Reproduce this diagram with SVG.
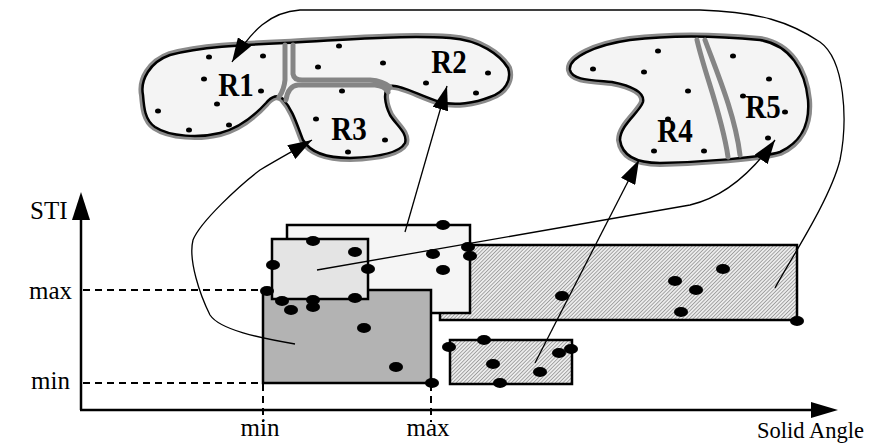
<svg xmlns="http://www.w3.org/2000/svg" width="889" height="443" viewBox="0 0 889 443">
  <style>
    .lbl { font-family: "Liberation Serif", "Times New Roman", serif; font-size: 25px; fill: #000; }
    .mid { text-anchor: middle; }
    .reg { font-family: "Liberation Serif", "Times New Roman", serif; font-size: 29px; font-weight: bold; fill: #000; text-anchor: middle; }
    .halo { fill: none; stroke: #8a8a8a; stroke-width: 8; stroke-linejoin: round; }
    .edge { fill: #f4f4f4; stroke: #000; stroke-width: 2.5; stroke-linejoin: round; }
    .split { fill: none; stroke: #858585; stroke-width: 5; stroke-linecap: round; }
    .pt { fill: #000; }
    .box { stroke: #000; stroke-width: 2.5; }
    .link { fill: none; stroke: #000; stroke-width: 1.3; }
    .axis { fill: none; stroke: #000; stroke-width: 2.5; }
    .guide { fill: none; stroke: #000; stroke-width: 2; stroke-dasharray: 7 5; }
  </style>
  <defs>
    <marker id="head" viewBox="0 0 24 16" refX="24" refY="8" markerWidth="24" markerHeight="16" markerUnits="userSpaceOnUse" orient="auto">
      <path d="M0,0 L24,8 L0,16 Z" fill="#000"/>
    </marker>
    <pattern id="hatch" width="2.6" height="2.6" patternUnits="userSpaceOnUse" patternTransform="rotate(45)">
      <rect width="2.6" height="2.6" fill="#ececec"/>
      <line x1="0" y1="0" x2="0" y2="2.6" stroke="#6e6e6e" stroke-width="1.1"/>
    </pattern>
  </defs>

  <!-- axes -->
  <g id="axes">
    <line class="axis" x1="81" y1="410" x2="81" y2="218"/>
    <path d="M72,220 L81,192 L90,220 Z" fill="#000"/>
    <line class="axis" x1="80" y1="410" x2="814" y2="410"/>
    <path d="M811,402 L838,410 L811,418 Z" fill="#000"/>
    <line class="guide" x1="83" y1="290" x2="263" y2="290"/>
    <line class="guide" x1="83" y1="383" x2="263" y2="383"/>
    <line class="guide" x1="263" y1="384" x2="263" y2="422"/>
    <line class="guide" x1="431" y1="384" x2="431" y2="422"/>
    <text class="lbl" x="30" y="219">STI</text>
    <text class="lbl" x="29" y="299">max</text>
    <text class="lbl" x="31" y="389">min</text>
    <text class="lbl mid" x="260" y="436">min</text>
    <text class="lbl mid" x="428" y="436">max</text>
    <text class="lbl" x="757" y="438" style="font-size:22.5px">Solid Angle</text>
  </g>

  <!-- region map: R1, R2, R3 -->
  <g id="regions-left">
    <path class="halo" d="M143,95 C140,80 150,62 170,55 C200,47 240,45 285,43 C340,40 400,35 450,38 C480,40 500,55 508,68 C512,80 505,92 490,97 C475,103 455,106 440,102 C420,96 400,84 390,86 C382,90 385,105 390,115 C396,125 408,133 405,143 C400,152 380,157 350,158 C325,158 310,152 303,140 C297,125 293,110 283,99 C278,94 272,96 266,103 C255,115 240,128 220,133 C200,138 170,137 155,127 C145,120 144,108 143,95 Z"/>
    <path class="edge" d="M143,95 C140,80 150,62 170,55 C200,47 240,45 285,43 C340,40 400,35 450,38 C480,40 500,55 508,68 C512,80 505,92 490,97 C475,103 455,106 440,102 C420,96 400,84 390,86 C382,90 385,105 390,115 C396,125 408,133 405,143 C400,152 380,157 350,158 C325,158 310,152 303,140 C297,125 293,110 283,99 C278,94 272,96 266,103 C255,115 240,128 220,133 C200,138 170,137 155,127 C145,120 144,108 143,95 Z"/>
    <path class="split" d="M285,45 L285,80 Q284,90 279,97"/>
    <path class="split" d="M293,45 L293,74 Q294,80 302,80 L370,80 Q383,81 390,87"/>
    <path class="split" d="M286,100 Q288,86 298,85 L375,85 Q385,86 388,92"/>
  </g>
  <g id="R1">
    <text class="reg" transform="translate(236,96) scale(1,1.15)">R1</text>
    <g class="pt">
      <ellipse cx="209" cy="57" rx="3" ry="2.5"/><ellipse cx="263" cy="56" rx="3" ry="2.5"/>
      <ellipse cx="204" cy="79" rx="3" ry="2.5"/><ellipse cx="261" cy="91" rx="3" ry="2.5"/>
      <ellipse cx="217" cy="104" rx="3" ry="2.5"/><ellipse cx="158" cy="111" rx="3" ry="2.5"/>
      <ellipse cx="189" cy="130" rx="3" ry="2.5"/><ellipse cx="229" cy="125" rx="3" ry="2.5"/>
    </g>
  </g>
  <g id="R2">
    <text class="reg" transform="translate(449,73) scale(1,1.15)">R2</text>
    <g class="pt">
      <ellipse cx="339" cy="46" rx="3" ry="2.5"/><ellipse cx="318" cy="67" rx="3" ry="2.5"/>
      <ellipse cx="383" cy="63" rx="3" ry="2.5"/><ellipse cx="426" cy="83" rx="3" ry="2.5"/>
      <ellipse cx="488" cy="73" rx="3" ry="2.5"/><ellipse cx="476" cy="93" rx="3" ry="2.5"/>
    </g>
  </g>
  <g id="R3">
    <text class="reg" transform="translate(349,140) scale(1,1.15)">R3</text>
    <g class="pt">
      <ellipse cx="342" cy="91" rx="3" ry="2.5"/><ellipse cx="316" cy="119" rx="3" ry="2.5"/>
      <ellipse cx="385" cy="140" rx="3" ry="2.5"/><ellipse cx="348" cy="152" rx="3" ry="2.5"/>
    </g>
  </g>

  <!-- region map: R4, R5 -->
  <g id="regions-right">
    <path class="halo" d="M570,70 C568,58 595,45 630,40 C670,35 720,36 760,40 C790,45 805,70 808,100 C810,125 800,143 780,152 C760,158 700,162 660,163 C635,163 622,155 620,140 C620,125 640,112 643,102 C645,92 632,86 612,82 C590,80 572,80 570,70 Z"/>
    <path class="edge" d="M570,70 C568,58 595,45 630,40 C670,35 720,36 760,40 C790,45 805,70 808,100 C810,125 800,143 780,152 C760,158 700,162 660,163 C635,163 622,155 620,140 C620,125 640,112 643,102 C645,92 632,86 612,82 C590,80 572,80 570,70 Z"/>
    <path class="split" d="M697,40 C705,75 722,115 728,157"/>
    <path class="split" d="M705,40 C718,75 735,115 740,155"/>
  </g>
  <g id="R4">
    <text class="reg" transform="translate(675,142) scale(1,1.15)">R4</text>
    <g class="pt">
      <ellipse cx="658" cy="51" rx="3" ry="2.5"/><ellipse cx="593" cy="69" rx="3" ry="2.5"/>
      <ellipse cx="644" cy="72" rx="3" ry="2.5"/><ellipse cx="688" cy="91" rx="3" ry="2.5"/>
      <ellipse cx="668" cy="119" rx="3" ry="2.5"/><ellipse cx="654" cy="151" rx="3" ry="2.5"/>
      <ellipse cx="704" cy="151" rx="3" ry="2.5"/>
    </g>
  </g>
  <g id="R5">
    <text class="reg" transform="translate(763,118) scale(1,1.15)">R5</text>
    <g class="pt">
      <ellipse cx="733" cy="56" rx="3" ry="2.5"/><ellipse cx="769" cy="79" rx="3" ry="2.5"/>
      <ellipse cx="743" cy="96" rx="3" ry="2.5"/><ellipse cx="785" cy="112" rx="3" ry="2.5"/>
      <ellipse cx="768" cy="138" rx="3" ry="2.5"/>
    </g>
  </g>

  <!-- bounding boxes in the STI / solid-angle plane -->
  <g id="box-wide">
    <rect class="box" x="440" y="245" width="357" height="75" fill="url(#hatch)"/>
  </g>
  <g id="box-light">
    <rect class="box" x="287" y="225" width="183" height="88" fill="#f5f5f5"/>
  </g>
  <g id="box-dark">
    <rect class="box" x="263" y="290" width="168" height="93" fill="#b3b3b3"/>
  </g>
  <g id="box-mid">
    <rect class="box" x="272" y="239" width="96" height="60" fill="#e4e4e4"/>
  </g>
  <g id="box-small">
    <rect class="box" x="450" y="340" width="122" height="44" fill="url(#hatch)"/>
  </g>

  <g id="samples" class="pt">
    <ellipse cx="443" cy="225" rx="7" ry="5"/><ellipse cx="313" cy="241" rx="7" ry="5"/>
    <ellipse cx="355" cy="252" rx="7" ry="5"/><ellipse cx="273" cy="265" rx="7" ry="5"/>
    <ellipse cx="368" cy="269" rx="7" ry="5"/><ellipse cx="433" cy="254" rx="7" ry="5"/>
    <ellipse cx="443" cy="270" rx="7" ry="5"/><ellipse cx="468" cy="247" rx="7" ry="5"/>
    <ellipse cx="470" cy="256" rx="7" ry="5"/><ellipse cx="267" cy="291" rx="7" ry="5"/>
    <ellipse cx="282" cy="301" rx="7" ry="5"/><ellipse cx="291" cy="310" rx="7" ry="5"/>
    <ellipse cx="313" cy="300" rx="7" ry="5"/><ellipse cx="313" cy="307" rx="7" ry="5"/>
    <ellipse cx="355" cy="298" rx="7" ry="5"/><ellipse cx="364" cy="328" rx="7" ry="5"/>
    <ellipse cx="396" cy="367" rx="7" ry="5"/><ellipse cx="432" cy="383" rx="7" ry="5"/>
    <ellipse cx="449" cy="347" rx="7" ry="5"/><ellipse cx="562" cy="296" rx="7" ry="5"/>
    <ellipse cx="675" cy="281" rx="7" ry="5"/><ellipse cx="723" cy="269" rx="7" ry="5"/>
    <ellipse cx="696" cy="290" rx="7" ry="5"/><ellipse cx="681" cy="312" rx="7" ry="5"/>
    <ellipse cx="797" cy="321" rx="7" ry="5"/><ellipse cx="484" cy="340" rx="7" ry="5"/>
    <ellipse cx="493" cy="364" rx="7" ry="5"/><ellipse cx="559" cy="353" rx="7" ry="5"/>
    <ellipse cx="571" cy="349" rx="7" ry="5"/><ellipse cx="540" cy="372" rx="7" ry="5"/>
    <ellipse cx="500" cy="383" rx="7" ry="5"/>
  </g>

  <!-- mappings from boxes to regions -->
  <g id="connectors">
    <path class="link" marker-end="url(#head)" d="M775,288 C790,260 830,200 840,160 C848,120 845,60 820,42 C790,22 760,12 700,10 L300,10 C270,12 252,30 232,62"/>
    <path class="link" marker-end="url(#head)" d="M295,344 C260,338 220,330 210,315 C200,295 188,260 193,240 C200,222 240,185 260,170 C280,158 295,150 312,140"/>
    <path class="link" marker-end="url(#head)" d="M405,232 L447,86"/>
    <path class="link" marker-end="url(#head)" d="M317,270 L690,205 C720,198 748,178 775,140"/>
    <path class="link" marker-end="url(#head)" d="M535,363 L639,160"/>
  </g>
</svg>
